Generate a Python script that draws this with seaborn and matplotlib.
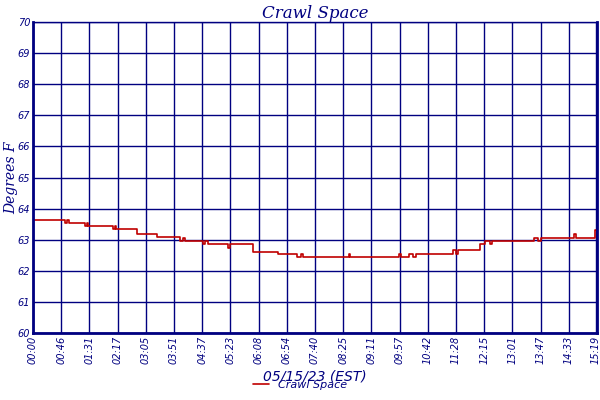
import matplotlib
matplotlib.use("Agg")
import matplotlib.pyplot as plt
import seaborn as sns
import pandas as pd

minutes = [0, 52, 56, 58, 85, 88, 90, 130, 134, 136, 170, 202, 240, 244, 248, 277, 281, 285, 318, 322, 359, 399,
           430, 437, 440, 463, 515, 517, 597, 600, 614, 620, 624, 685, 690, 693, 729, 737, 745, 748, 818, 823, 828,
           851, 883, 885, 916, 919, 920]
temps = [63.63, 63.53, 63.63, 63.53, 63.43, 63.53, 63.43, 63.33, 63.43, 63.33, 63.19, 63.09, 62.97, 63.07, 62.97,
         62.87, 62.97, 62.87, 62.73, 62.87, 62.62, 62.54,
         62.45, 62.54, 62.45, 62.45, 62.54, 62.45, 62.54, 62.45, 62.54, 62.45, 62.54, 62.68, 62.54, 62.68, 62.86, 62.97, 62.86, 62.97, 63.07, 62.97, 63.07,
         63.07, 63.18, 63.07, 63.30, 63.30, 63.30]
tick_labels = ["00:00", "00:46", "01:31", "02:17", "03:05", "03:51", "04:37", "05:23", "06:08", "06:54", "07:40",
               "08:25", "09:11", "09:57", "10:42", "11:28", "12:15", "13:01", "13:47", "14:33", "15:19"]

df = pd.DataFrame({"minutes": minutes, "temp": temps, "series": "Crawl Space"})
navy = "#000080"
sns.set_style("white")
fig = plt.figure(figsize=(6, 4), dpi=100)
ax = fig.add_axes([0.055, 0.1675, 0.94, 0.7775])
sns.lineplot(data=df, x="minutes", y="temp", hue="series", palette=["#c00000"], drawstyle="steps-post",
             linewidth=1.2, ax=ax, legend=True)
ax.set_xlim(0, 920)
ax.set_ylim(60, 70)
ticks = [i * 46 for i in range(20)] + [918]
ax.set_xticks(ticks)
ax.set_xticklabels(tick_labels, rotation=90, fontsize=7, style="italic", color=navy)
ax.set_yticks(range(60, 71))
ax.set_yticklabels([str(v) for v in range(60, 71)], fontsize=7, style="italic", color=navy)
ax.grid(True, color=navy, linewidth=1)
ax.tick_params(length=0, pad=2)
for s in ax.spines.values():
    s.set_color(navy)
ax.spines["left"].set_linewidth(2)
ax.spines["bottom"].set_linewidth(2)
ax.spines["right"].set_linewidth(2)
ax.spines["top"].set_linewidth(1)
ax.set_title("Crawl Space", fontsize=12, family="DejaVu Serif", style="italic", color=navy, pad=3)
ax.set_ylabel("Degrees F", fontsize=10, family="DejaVu Serif", style="italic", color=navy, labelpad=0)
ax.set_xlabel("05/15/23 (EST)", fontsize=10, style="italic", color=navy, labelpad=4)
handles, labels = ax.get_legend_handles_labels()
ax.get_legend().remove()
leg = fig.legend(handles, labels, loc="lower center", bbox_to_anchor=(0.5, 0.0), frameon=False,
                 prop={"style": "italic", "size": 8}, handlelength=1.5)
for t in leg.get_texts():
    t.set_color(navy)
fig.savefig("out.png", dpi=100, facecolor="white")
